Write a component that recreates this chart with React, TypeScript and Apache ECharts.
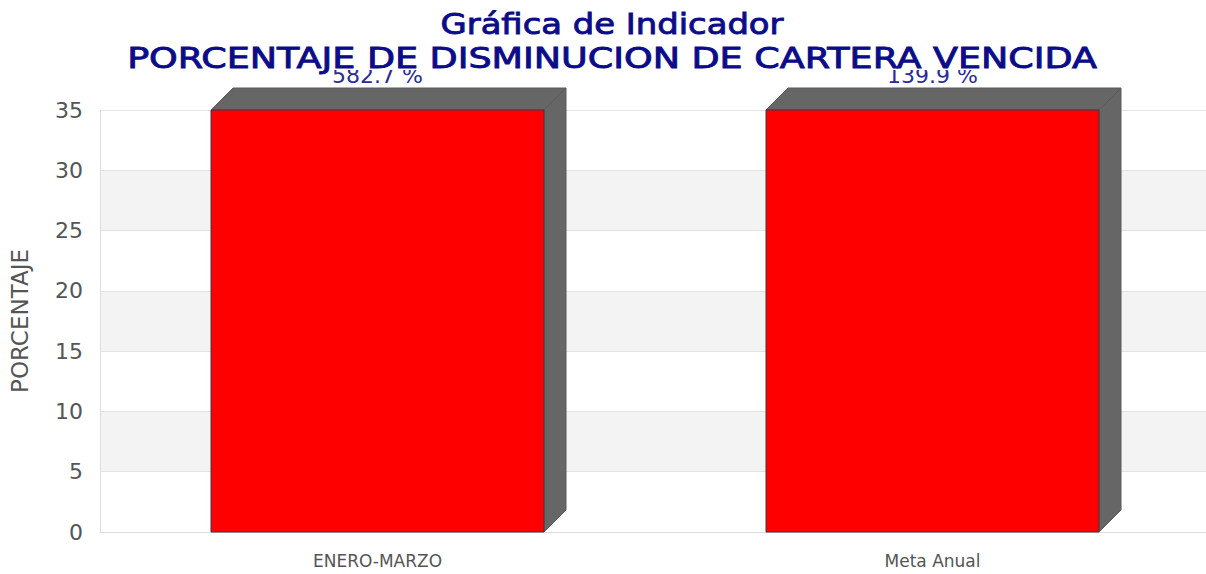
import React, { useEffect, useRef } from "react";
import * as echarts from "echarts";

const categories = ["ENERO-MARZO", "Meta Anual"];
const values = [582.7, 139.9];
const yTicks = { min: 0, max: 35, interval: 5 };
const titleLine1 = "Gráfica de Indicador";
const titleLine2 = "PORCENTAJE DE DISMINUCION DE CARTERA VENCIDA";
const yName = "PORCENTAJE";

export default function App() {
  const ref = useRef<HTMLDivElement>(null);
  useEffect(() => {
    if (!ref.current) return;
    const chart = echarts.init(ref.current, null, { renderer: "svg" });
    const depth = 22;
    const titleColor = "#0c0c8a";
    const option: any = {
      animation: false,
      backgroundColor: "#ffffff",
      textStyle: { fontFamily: "DejaVu Sans" },
      graphic: [
        {
          type: "rect",
          z: 100,
          shape: { x: 126, y: 40, width: 974, height: 30 },
          style: { fill: "#ffffff" },
        },
        {
          type: "text",
          z: 101,
          x: 612,
          y: 24,
          scaleX: 1.167,
          style: {
            text: titleLine1,
            fill: titleColor,
            stroke: titleColor,
            lineWidth: 0.9,
            fontSize: 29,
            fontWeight: "normal",
            fontFamily: "DejaVu Sans",
            align: "center",
            verticalAlign: "middle",
          },
        },
        {
          type: "text",
          z: 101,
          x: 612,
          y: 58,
          scaleX: 1.258,
          style: {
            text: titleLine2,
            fill: titleColor,
            stroke: titleColor,
            lineWidth: 0.9,
            fontSize: 29,
            fontWeight: "normal",
            fontFamily: "DejaVu Sans",
            align: "center",
            verticalAlign: "middle",
          },
        },
      ],
      grid: { left: 100, top: 110, bottom: 42, width: 1110, outerBoundsMode: "none", containLabel: false },
      xAxis: {
        type: "category",
        data: categories,
        axisLine: { show: true, lineStyle: { color: "#dddddd" } },
        axisTick: { show: false },
        axisLabel: { color: "#555555", fontSize: 17, margin: 20 },
        splitLine: { show: false },
      },
      yAxis: {
        type: "value",
        min: yTicks.min,
        max: yTicks.max,
        interval: yTicks.interval,
        name: yName,
        nameLocation: "middle",
        nameRotate: 90,
        nameGap: 69,
        nameTextStyle: { color: "#555555", fontSize: 23 },
        axisLine: { show: true, lineStyle: { color: "#dddddd" } },
        axisTick: { show: false },
        axisLabel: { color: "#555555", fontSize: 22, margin: 17 },
        splitLine: { show: true, lineStyle: { color: "#e2e2e2" } },
        splitArea: { show: true, areaStyle: { color: ["#ffffff", "#f3f3f3"] } },
      },
      series: [
        {
          type: "custom",
          clip: false,
          data: values.map((v, i) => [i, v]),
          renderItem: (params: any, api: any) => {
            const idx = api.value(0);
            const raw = api.value(1);
            const v = Math.min(raw, yTicks.max);
            const top = api.coord([idx, v]);
            const bottom = api.coord([idx, 0]);
            const bw = api.size([1, 0])[0] * 0.6;
            const x0 = top[0] - bw / 2;
            const x1 = x0 + bw;
            const d = depth;
            return {
              type: "group",
              children: [
                {
                  type: "polygon",
                  shape: {
                    points: [
                      [x1, top[1]],
                      [x1 + d, top[1] - d],
                      [x1 + d, bottom[1] - d],
                      [x1, bottom[1]],
                    ],
                  },
                  style: { fill: "#666666", stroke: "#5a5a5a", lineWidth: 1 },
                },
                {
                  type: "polygon",
                  shape: {
                    points: [
                      [x0, top[1]],
                      [x0 + d, top[1] - d],
                      [x1 + d, top[1] - d],
                      [x1, top[1]],
                    ],
                  },
                  style: { fill: "#666666", stroke: "#5a5a5a", lineWidth: 1 },
                },
                {
                  type: "rect",
                  shape: { x: x0, y: top[1], width: bw, height: bottom[1] - top[1] },
                  style: { fill: "#ff0000", stroke: "#3a3a3a", lineWidth: 1 },
                },
                {
                  type: "text",
                  x: top[0],
                  y: top[1] - d - 2,
                  style: {
                    text: raw.toFixed(1) + " %",
                    fill: "#2a2a9a",
                    fontSize: 22,
                    fontFamily: "DejaVu Sans",
                    align: "center",
                    verticalAlign: "bottom",
                  },
                },
              ],
            };
          },
        },
      ],
    };
    chart.setOption(option);
    return () => chart.dispose();
  }, []);
  return (
    <div
      ref={ref}
      style={{ position: "fixed", left: 0, top: 0, width: 1206, height: 574 }}
    />
  );
}
